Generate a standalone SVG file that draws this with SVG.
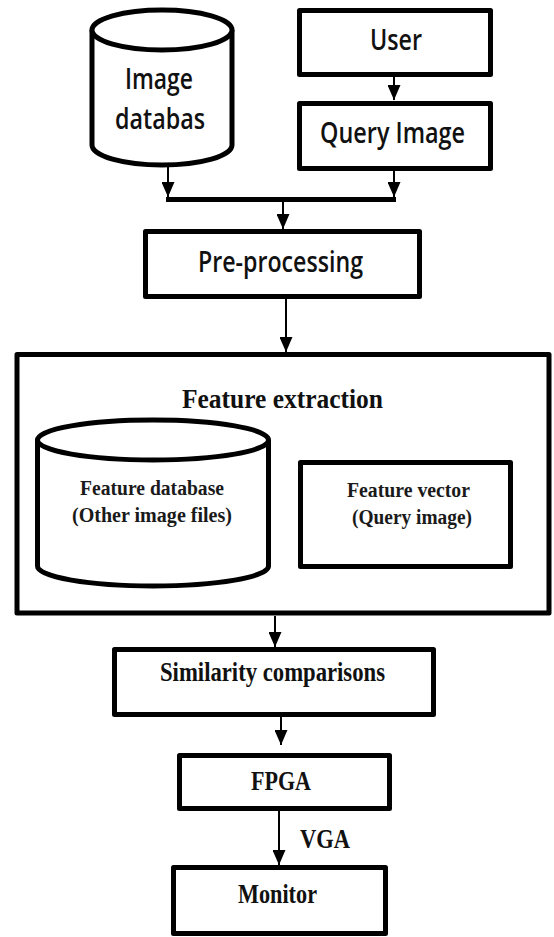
<svg xmlns="http://www.w3.org/2000/svg" width="554" height="937" viewBox="0 0 554 937">
  <defs>
    <marker id="arrow" viewBox="0 0 15 13" refX="15" refY="6.5" markerWidth="15" markerHeight="13" markerUnits="userSpaceOnUse" orient="auto">
      <path d="M0,0 L15,6.5 L0,13 Z" fill="#000"/>
    </marker>
    <style>
      .box { fill: #fff; stroke: #000; stroke-width: 5; stroke-linejoin: round; }
      .cyl { fill: #fff; stroke: #000; stroke-width: 5; stroke-linejoin: round; }
      .link { fill: none; stroke: #000; stroke-width: 2; }
      .bar { fill: none; stroke: #000; stroke-width: 5; }
      .sans { font-family: "Open Sans", "Liberation Sans", sans-serif; font-weight: 600; font-size: 28px; fill: #111; }
      .serif { font-family: "Liberation Serif", "DejaVu Serif", serif; font-weight: bold; font-size: 27px; fill: #111; }
      .serif-sm { font-family: "Liberation Serif", "DejaVu Serif", serif; font-weight: bold; font-size: 20px; fill: #1a1a1a; }
    </style>
  </defs>

  <!-- Image database (cylinder) -->
  <g id="image-database">
    <path class="cyl" d="M92,30 L92,145 A70,20 0 0 0 232,145 L232,30"/>
    <ellipse class="cyl" cx="162" cy="30" rx="70" ry="20"/>
    <text class="sans" x="125" y="89" font-size="27" textLength="68" lengthAdjust="spacingAndGlyphs">Image</text>
    <text class="sans" x="115" y="129" font-size="27" textLength="90" lengthAdjust="spacingAndGlyphs">databas</text>
  </g>

  <!-- User -->
  <g id="user">
    <rect class="box" x="299.5" y="10.5" width="191" height="64"/>
    <text class="sans" x="370" y="50" textLength="52" lengthAdjust="spacingAndGlyphs">User</text>
  </g>

  <!-- Query Image -->
  <g id="query-image">
    <rect class="box" x="299.5" y="103.5" width="191" height="65"/>
    <text class="sans" x="320" y="143" textLength="145" lengthAdjust="spacingAndGlyphs">Query Image</text>
  </g>

  <!-- Pre-processing -->
  <g id="pre-processing">
    <rect class="box" x="145.5" y="231.5" width="274" height="65"/>
    <text class="sans" x="198" y="272" textLength="165" lengthAdjust="spacingAndGlyphs">Pre-processing</text>
  </g>

  <!-- Feature extraction container -->
  <g id="feature-extraction">
    <rect class="box" x="17" y="354.5" width="532" height="258.5"/>
    <text class="serif" x="182" y="408" textLength="201" lengthAdjust="spacingAndGlyphs">Feature extraction</text>
  </g>

  <!-- Feature database (cylinder) -->
  <g id="feature-database">
    <path class="cyl" d="M37.5,440 L37.5,566 A115.5,20 0 0 0 268.5,566 L268.5,440"/>
    <ellipse class="cyl" cx="153" cy="440" rx="115.5" ry="20"/>
    <text class="serif-sm" x="80" y="495" textLength="144" lengthAdjust="spacingAndGlyphs">Feature  database</text>
    <text class="serif-sm" x="72" y="522" textLength="160" lengthAdjust="spacingAndGlyphs">(Other image files)</text>
  </g>

  <!-- Feature vector -->
  <g id="feature-vector">
    <rect class="box" x="300.5" y="462.5" width="210" height="104"/>
    <text class="serif-sm" x="347" y="497" textLength="123" lengthAdjust="spacingAndGlyphs">Feature  vector</text>
    <text class="serif-sm" x="352" y="524" textLength="120" lengthAdjust="spacingAndGlyphs">(Query image)</text>
  </g>

  <!-- Similarity comparisons -->
  <g id="similarity">
    <rect class="box" x="114.5" y="649.5" width="319" height="65"/>
    <text class="serif" x="160" y="681" textLength="225" lengthAdjust="spacingAndGlyphs">Similarity comparisons</text>
  </g>

  <!-- FPGA -->
  <g id="fpga">
    <rect class="box" x="179.5" y="755.5" width="210" height="53"/>
    <text class="serif" x="251" y="790" textLength="60" lengthAdjust="spacingAndGlyphs">FPGA</text>
  </g>

  <!-- Monitor -->
  <g id="monitor">
    <rect class="box" x="173.5" y="867.5" width="212" height="66"/>
    <text class="serif" x="238" y="903" font-size="28" textLength="79" lengthAdjust="spacingAndGlyphs">Monitor</text>
  </g>

  <!-- Connectors -->
  <g id="connectors">
    <line class="link" x1="168" y1="166" x2="168" y2="197" marker-end="url(#arrow)"/>
    <line class="link" x1="394" y1="77" x2="394" y2="100" marker-end="url(#arrow)"/>
    <line class="link" x1="394" y1="171" x2="394" y2="197" marker-end="url(#arrow)"/>
    <line class="bar" x1="166" y1="199.5" x2="396" y2="199.5"/>
    <line class="link" x1="283" y1="202" x2="283" y2="229" marker-end="url(#arrow)"/>
    <line class="link" x1="286" y1="299" x2="286" y2="352" marker-end="url(#arrow)"/>
    <line class="link" x1="275" y1="616" x2="275" y2="647" marker-end="url(#arrow)"/>
    <line class="link" x1="281" y1="717" x2="281" y2="745" marker-end="url(#arrow)"/>
    <line class="link" x1="279" y1="811" x2="279" y2="865" marker-end="url(#arrow)"/>
    <text class="serif" x="300" y="848" font-size="28" textLength="50" lengthAdjust="spacingAndGlyphs">VGA</text>
  </g>
</svg>
